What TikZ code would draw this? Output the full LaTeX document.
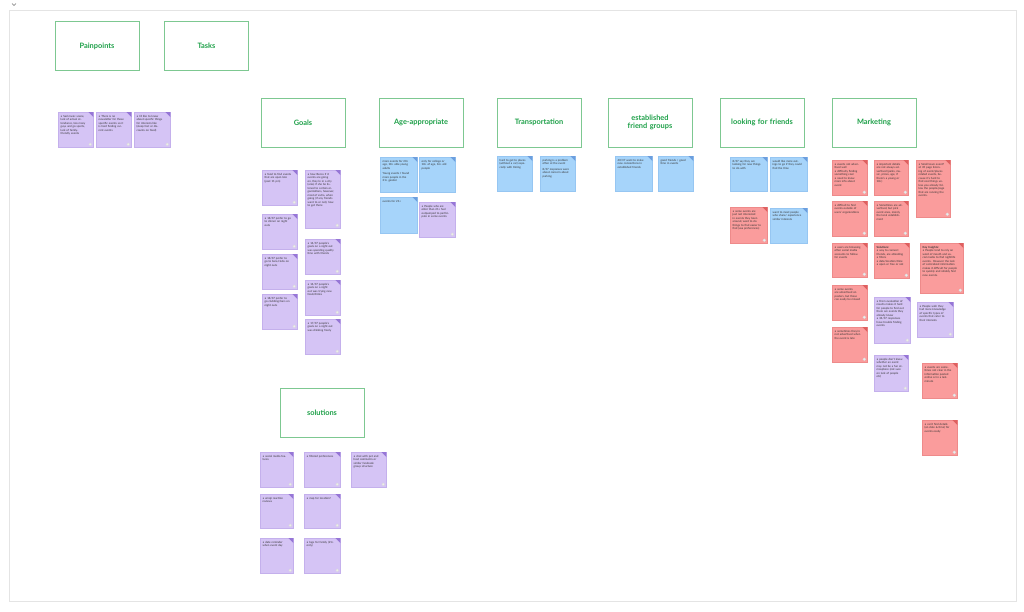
\documentclass[tikz,border=0pt]{standalone}
\usepackage{fontspec}
\setmainfont{Lato}
\definecolor{hgreen}{RGB}{29,160,72}
\definecolor{hborder}{RGB}{125,200,145}
\definecolor{framegray}{RGB}{228,228,228}
\definecolor{Pfill}{RGB}{213,196,245}
\definecolor{Pline}{RGB}{196,176,236}
\definecolor{Pfold}{RGB}{150,118,214}
\definecolor{Bfill}{RGB}{166,212,250}
\definecolor{Bline}{RGB}{150,198,242}
\definecolor{Bfold}{RGB}{108,158,222}
\definecolor{Rfill}{RGB}{250,156,156}
\definecolor{Rline}{RGB}{238,138,138}
\definecolor{Rfold}{RGB}{222,96,96}
\tikzset{
  header/.style={draw=hborder, line width=0.8pt, minimum width=84pt, minimum height=49pt,
    inner sep=2pt, text width=70pt, align=center, text=hgreen,
    font=\fontsize{7.4}{8.6}\selectfont\bfseries},
  noteP/.style={fill=Pfill, draw=Pline, line width=0.3pt, inner sep=0pt},
  noteB/.style={fill=Bfill, draw=Bline, line width=0.3pt, inner sep=0pt},
  noteR/.style={fill=Rfill, draw=Rline, line width=0.3pt, inner sep=0pt},
  notetext/.style={inner sep=0pt, align=left, text=black!80,
    font=\fontsize{2.8}{3.5}\selectfont},
  notedot/.style={fill=white!85!gray, draw=white!70!gray, line width=0.25pt},
  shadowbox/.style={fill=black!7}
}
\newcommand\bl{\textbullet\ }
% name, colour letter, x, y, w, h, text
\newcommand\sticky[7]{%
  \pgfmathsetmacro\notetw{#5-8}%
  \fill[shadowbox] (#3+0.7,#4+0.9) rectangle ++(#5,#6);
  \node[note#2, minimum width=#5pt, minimum height=#6pt, anchor=north west] (#1) at (#3,#4) {};
  \fill[#2fold] ([xshift=-5pt]#1.north east) -- (#1.north east) -- ([yshift=-5pt]#1.north east) -- cycle;
  \node[notetext, text width=\notetw pt, anchor=north west] (#1t) at ([xshift=2.5pt,yshift=-3pt]#1.north west) {#7};
}
\newcommand\stickyd[7]{%
  \sticky{#1}{#2}{#3}{#4}{#5}{#6}{#7}%
  \draw[notedot] ([xshift=-3pt,yshift=3pt]#1.south east) circle (1.5pt);
}
\begin{document}
\begin{tikzpicture}[x=1pt,y=-1pt]
\useasboundingbox[fill=white] (0,0) rectangle (1024,611);
\draw[framegray, line width=0.6pt] (9,10) rectangle (1016,601);
\draw[black!55, line width=0.4pt] (12,3.5) -- (14,5.5) -- (16,3.5);

% headers
\node[header] (hPain) at (97,46) {Painpoints};
\node[header] (hTasks) at (206.5,46) {Tasks};
\node[header] (hGoals) at (303,122.5) {Goals};
\node[header] (hAge) at (421,122.5) {Age-appropriate};
\node[header] (hTrans) at (539,122.5) {Transportation};
\node[header] (hFriends) at (650,122.5) {established friend groups};
\node[header] (hLook) at (762,122.5) {looking for friends};
\node[header] (hMkt) at (874,122.5) {Marketing};
\node[header] (hSol) at (322,413) {solutions};

% painpoints
\stickyd{p1}{P}{58}{112}{35}{35}{\bl Sad music scene, lack of actual attendance, too many guys and go sports, lack of family-friendly events}
\stickyd{p2}{P}{96}{112}{35}{35}{\bl There is no newsletter for these specific events so it is hard finding current events}
\stickyd{p3}{P}{134}{112}{36}{35}{\bl I'd like to know about specific things for interests like (sleep fest or discounts on food)}

% goals
\stickyd{g1}{P}{262}{170}{35}{35}{\bl food to find events that are open late (past 11 pm)}
\stickyd{g2}{P}{262}{214}{35}{35}{\bl 18/37 prefer to go to dinner on night outs}
\stickyd{g3}{P}{262}{254}{35}{35}{\bl 18/37 prefer to go to bars/clubs on night outs}
\stickyd{g4}{P}{262}{294}{35}{35}{\bl 18/37 prefer to go clubbing/bars on night outs}
\stickyd{g5}{P}{305}{170}{35}{58}{\bl how Becca if it events are going on, they're in a city (area) if she be listened to certain organizations, however, most of extra, when going (if any friends want to or not), how to get there}
\stickyd{g6}{P}{305}{239}{35}{35}{\bl 14/37 people's goals on a night out was spending quality time with friends}
\stickyd{g7}{P}{305}{280}{35}{35}{\bl 14/37 people's goals on a night out was trying new food/drinks}
\stickyd{g8}{P}{305}{319}{35}{35}{\bl 17/37 people's goals on a night out was drinking freely}

% age-appropriate
\sticky{a1}{B}{380}{157}{37}{35}{more events for 20+ age, 18+ able young adults\par\vspace{2pt}Young events I found more people in the 21+ gender}
\sticky{a2}{B}{419}{157}{36}{35}{only for college or 18+ of age, 16+ old people}
\sticky{a3}{B}{380}{197}{37}{36}{events for 21+}
\stickyd{a4}{P}{419}{202}{36}{35}{\bl People who are older than 21+ feel outpumped to participate in some events}

% transportation
\sticky{t1}{B}{497}{156}{35}{35}{hard to get to places (without a car) especially with timing}
\sticky{t2}{B}{540}{156}{35}{35}{parking is a problem often at the event\par\vspace{2pt}8/37 responses were about concern about parking}

% established friend groups
\sticky{e1}{B}{615}{156}{37}{35}{40/37 want to make new connections in established friends}
\sticky{e2}{B}{658}{156}{35}{35}{good friends / good time in events}

% looking for friends
\sticky{l1}{B}{730}{157}{37}{34}{8/37 say they are looking for new things to do with}
\sticky{l2}{B}{770}{157}{37}{34}{would like more outings to go if they could find the time}
\stickyd{l3}{R}{730}{207}{37}{36}{\bl some events are just not interested in events they been around, want to do things to find easier to find (usa preferences)}
\sticky{l4}{B}{770}{208}{37}{35}{want to meet people who share/ experience similar interests}

% marketing
\stickyd{m1}{R}{832}{160}{35}{35}{\bl events not advertised well\par\bl difficulty finding something cool\par\bl need to know more info about event}
\stickyd{m2}{R}{874}{160}{34}{35}{\bl important details are not always advertised (parks, music, prices, age, if there's a young or 18+)}
\stickyd{m3}{R}{916}{160}{34}{57}{\bl Small town event? at 45 page listening of event/places related events, because it's hard to find cool things unless you already follow the people/page that are running the events.}
\stickyd{m4}{R}{832}{201}{35}{35}{\bl difficult to find events outside of users' organizations}
\stickyd{m5}{R}{874}{201}{34}{35}{\bl Sometimes are advertised, but pick event ones, mainly the local establishment}
\stickyd{m6}{R}{832}{243}{35}{34}{\bl users are browsing often social media accounts to follow for events}
\stickyd{m7}{R}{874}{243}{35}{35}{\textbf{Solutions:}\par\bl way to connect friends, are attending\par\bl filters\par\bl date/location/time\par\bl open or free or not}
\stickyd{m8}{R}{920}{243}{43}{50}{\textbf{Key Insights:}\par\bl People tend to rely on word of mouth and social media to find nightlife events. However the lack of centralized information makes it difficult for people to quickly and reliably find new events.}
\stickyd{m9}{R}{832}{285}{35}{35}{\bl some events are advertised on posters, but these can easily be missed}
\stickyd{m10}{P}{874}{297}{36}{46}{\bl From evaluation of results makes it hard for people to find out there are events they already know\par\bl 34/37 responses have trouble finding events}
\stickyd{m11}{P}{917}{302}{36}{35}{\bl People wish they had more knowledge of specific types of events that cater to their interests}
\stickyd{m12}{R}{832}{327}{35}{35}{\bl sometimes they're not advertised when the event is late}
\stickyd{m13}{P}{874}{355}{34}{36}{\bl people don't know whether an event may not be a fun atmosphere (not sure on lack of people etc)}
\stickyd{m14}{R}{922}{363}{35}{35}{\bl events are sometimes not clear in the information posted online or in a last-minute}
\stickyd{m15}{R}{922}{420}{35}{35}{\bl can't find details (on date \& time) for events easily}

% solutions
\stickyd{s1}{P}{260}{452}{33}{35}{\bl social media features}
\stickyd{s2}{P}{304}{452}{36}{35}{\bl filtered preferences}
\stickyd{s3}{P}{351}{452}{35}{35}{\bl chat with pet and host comments or similar facebook group structure}
\stickyd{s4}{P}{260}{494}{33}{34}{\bl emoji reaction reviews}
\stickyd{s5}{P}{304}{494}{36}{34}{\bl map for location?}
\stickyd{s6}{P}{260}{538}{33}{35}{\bl date reminder when event day}
\stickyd{s7}{P}{304}{538}{36}{35}{\bl tags for family (21+ only)}
\end{tikzpicture}
\end{document}
